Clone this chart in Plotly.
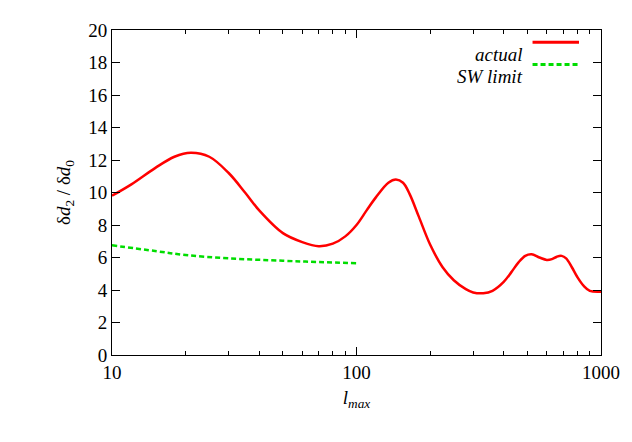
import plotly.graph_objects as go

lmax_actual = [10, 12, 15, 18, 21, 25, 30, 35, 40, 50, 60, 70, 80, 90, 100, 110, 120, 135, 145, 155, 165, 180, 200, 225, 250, 280, 300, 330, 360, 400, 430, 460, 490, 520, 560, 600, 630, 660, 690, 720, 760, 800, 850, 900, 1000]
ratio_actual = [9.8, 10.5, 11.5, 12.2, 12.45, 12.2, 11.2, 10.0, 8.9, 7.5, 6.95, 6.7, 6.85, 7.3, 8.0, 8.9, 9.7, 10.6, 10.8, 10.6, 9.9, 8.5, 6.8, 5.4, 4.6, 4.05, 3.85, 3.8, 3.95, 4.5, 5.1, 5.7, 6.1, 6.2, 6.0, 5.85, 5.9, 6.05, 6.1, 5.95, 5.4, 4.8, 4.25, 3.95, 3.9]
lmax_sw = [10, 15, 20, 30, 50, 70, 100]
ratio_sw = [6.75, 6.4, 6.15, 5.95, 5.8, 5.72, 5.65]

font = dict(family="Liberation Serif", size=19, color="black")
fig = go.Figure()
fig.add_trace(go.Scatter(x=lmax_actual, y=ratio_actual, mode="lines", line=dict(color="#ff0000", width=2.5, shape="spline", smoothing=1.0), showlegend=False))
fig.add_trace(go.Scatter(x=lmax_sw, y=ratio_sw, mode="lines", line=dict(color="#00dd00", width=2.5, dash="5px,3px", shape="spline"), showlegend=False))

for i, (name, color, dash) in enumerate([("actual", "#ff0000", "solid"), ("SW limit", "#00dd00", "5px,3px")]):
    y = 0.962 - i * 0.068
    fig.add_annotation(xref="paper", yref="paper", x=0.845, y=y, text=f"<i>{name}</i>", showarrow=False, xanchor="right", font=font)
    fig.add_shape(type="line", xref="paper", yref="paper", x0=0.86, x1=0.955, y0=y, y1=y, line=dict(color=color, width=3, dash=dash))

axis = dict(showline=True, linecolor="black", linewidth=1, mirror="ticks", ticks="inside", ticklen=8, tickcolor="black", showgrid=False, zeroline=False, tickfont=font)
fig.update_layout(
    width=632, height=442, plot_bgcolor="white", paper_bgcolor="white",
    margin=dict(l=104, r=39, t=15, b=95),
    xaxis=dict(type="log", range=[1, 3], tickvals=[10, 100, 1000], ticktext=["10", "100", "1000"],
               minor=dict(ticks="inside", ticklen=4, tickcolor="black", tickvals=[v * d for d in (10, 100) for v in range(2, 10)]),
               title=dict(text="<i>l</i><sub><i>max</i></sub>", font=font, standoff=8), **axis),
    yaxis=dict(range=[0, 20], dtick=2, title=dict(text="δ<i>d</i><sub>2</sub> / δ<i>d</i><sub>0</sub>", font=font, standoff=12), **axis),
)
fig.write_html("out.html")
